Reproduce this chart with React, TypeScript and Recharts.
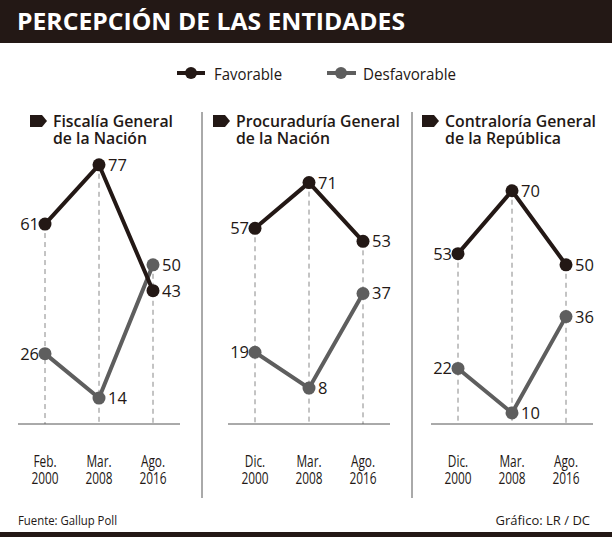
import { LabelList, Line, LineChart, ReferenceLine, XAxis, YAxis } from "recharts";

const monthsFiscalia = ["Feb.", "Mar.", "Ago."];
const monthsOther = ["Dic.", "Mar.", "Ago."];
const years = ["2000", "2008", "2016"];

const fiscaliaFav = [61, 77, 43];
const fiscaliaDesf = [26, 14, 50];
const procuraduriaFav = [57, 71, 53];
const procuraduriaDesf = [19, 8, 37];
const contraloriaFav = [53, 70, 50];
const contraloriaDesf = [22, 10, 36];

const DARK = "#231815";
const GREY = "#5e5e5e";
const FONT = "'Open Sans', 'Noto Sans', sans-serif";

function buildRows(months: string[], fav: number[], desf: number[]) {
  return months.map((m, i) => ({
    key: `${m} ${years[i]}`,
    fav: fav[i],
    desf: desf[i],
    top: Math.max(fav[i], desf[i]),
  }));
}

function PointLabel(props: any) {
  const { x, y, value, index } = props;
  const left = index === 0;
  return (
    <text
      x={left ? x - 6 : x + 9}
      y={y}
      dy="0.36em"
      textAnchor={left ? "end" : "start"}
      fontFamily={FONT}
      fontSize={16.5}
      fill={DARK}
    >
      {value}
    </text>
  );
}

// condensed two-line date label, squeezed horizontally like the original face
function DateTick(props: any) {
  const { x, y, payload } = props;
  const [month, year] = String(payload.value).split(" ");
  return (
    <g transform={`translate(${x},${y}) scale(0.72,1)`}>
      <text x={0} y={35} textAnchor="middle" fontFamily={FONT} fontSize={16.5} fill={DARK}>
        {month}
      </text>
      <text x={0} y={52} textAnchor="middle" fontFamily={FONT} fontSize={16.5} fill={DARK}>
        {year}
      </text>
    </g>
  );
}

function Panel({ left, marginLeft, months, fav, desf, domain }: any) {
  const rows = buildRows(months, fav, desf);
  return (
    <div style={{ position: "absolute", left, top: 140 }}>
      <LineChart
        width={200}
        height={360}
        data={rows}
        margin={{ top: 10, right: 200 - marginLeft - 162, bottom: 16, left: marginLeft }}
      >
        <XAxis
          dataKey="key"
          interval={0}
          tickLine={false}
          axisLine={{ stroke: "#555" }}
          padding={{ left: 27, right: 27 }}
          height={60}
          tick={<DateTick />}
        />
        <YAxis hide type="number" domain={domain} allowDataOverflow />
        {rows.map((r) => (
          <ReferenceLine
            key={r.key}
            segment={[
              { x: r.key, y: r.top },
              { x: r.key, y: domain[0] },
            ]}
            stroke="#888"
            strokeDasharray="5 4"
          />
        ))}
        <Line
          type="linear"
          dataKey="desf"
          stroke={GREY}
          strokeWidth={4}
          dot={{ r: 6.5, fill: GREY, stroke: "none" }}
          isAnimationActive={false}
        >
          <LabelList dataKey="desf" content={<PointLabel />} />
        </Line>
        <Line
          type="linear"
          dataKey="fav"
          stroke={DARK}
          strokeWidth={4}
          dot={{ r: 6.5, fill: DARK, stroke: "none" }}
          isAnimationActive={false}
        >
          <LabelList dataKey="fav" content={<PointLabel />} />
        </Line>
      </LineChart>
    </div>
  );
}

function PanelTitle({ x, line1, line2, width1, width2 }: any) {
  return (
    <g>
      <path d={`M${x} 115 H${x + 12} L${x + 17} 121 L${x + 12} 127 H${x} Z`} fill={DARK} />
      <text x={x + 23} y={127} fontFamily={FONT} fontSize={16} fontWeight={600} fill={DARK}
        textLength={width1} lengthAdjust="spacingAndGlyphs">
        {line1}
      </text>
      <text x={x + 23} y={144} fontFamily={FONT} fontSize={16} fontWeight={600} fill={DARK}
        textLength={width2} lengthAdjust="spacingAndGlyphs">
        {line2}
      </text>
    </g>
  );
}

export default function App() {
  return (
    <div style={{ position: "absolute", left: 0, top: 0, width: 612, height: 537, background: "#fff", overflow: "hidden" }}>
      <svg width={612} height={537} style={{ position: "absolute", left: 0, top: 0 }}>
        <rect x={0} y={0} width={612} height={43} fill={DARK} />
        <text x={17} y={30} fontFamily={FONT} fontSize={24} fontWeight={700} fill="#fff"
          textLength={388} lengthAdjust="spacingAndGlyphs">
          PERCEPCIÓN DE LAS ENTIDADES
        </text>

        <line x1={177} x2={205} y1={73} y2={73} stroke={DARK} strokeWidth={4} />
        <circle cx={191} cy={73} r={6} fill={DARK} />
        <text x={214} y={80} fontFamily={FONT} fontSize={17} fill={DARK} textLength={68} lengthAdjust="spacingAndGlyphs">
          Favorable
        </text>
        <line x1={327} x2={356} y1={73} y2={73} stroke={GREY} strokeWidth={4} />
        <circle cx={341} cy={73} r={6} fill={GREY} />
        <text x={363} y={80} fontFamily={FONT} fontSize={17} fill={DARK} textLength={93} lengthAdjust="spacingAndGlyphs">
          Desfavorable
        </text>

        <PanelTitle x={30} line1="Fiscalía General" line2="de la Nación" width1={120} width2={94} />
        <PanelTitle x={213} line1="Procuraduría General" line2="de la Nación" width1={164} width2={94} />
        <PanelTitle x={422} line1="Contraloría General" line2="de la República" width1={151} width2={116} />

        <line x1={202} x2={202} y1={112} y2={498} stroke="#555" strokeWidth={1} />
        <line x1={412} x2={412} y1={112} y2={498} stroke="#555" strokeWidth={1} />

        <text x={18} y={525} fontFamily={FONT} fontSize={13} fill={DARK} textLength={99} lengthAdjust="spacingAndGlyphs">
          Fuente: Gallup Poll
        </text>
        <text x={590} y={525} fontFamily={FONT} fontSize={13} fill={DARK} textAnchor="end">
          Gráfico: LR / DC
        </text>
        <rect x={0} y={532} width={612} height={5} fill={DARK} />
      </svg>

      <Panel left={0} marginLeft={18} months={monthsFiscalia} fav={fiscaliaFav} desf={fiscaliaDesf} domain={[7, 81]} />
      <Panel left={210} marginLeft={18} months={monthsOther} fav={procuraduriaFav} desf={procuraduriaDesf} domain={[-3, 81]} />
      <Panel left={412} marginLeft={19} months={monthsOther} fav={contraloriaFav} desf={contraloriaDesf} domain={[7, 81]} />
    </div>
  );
}
